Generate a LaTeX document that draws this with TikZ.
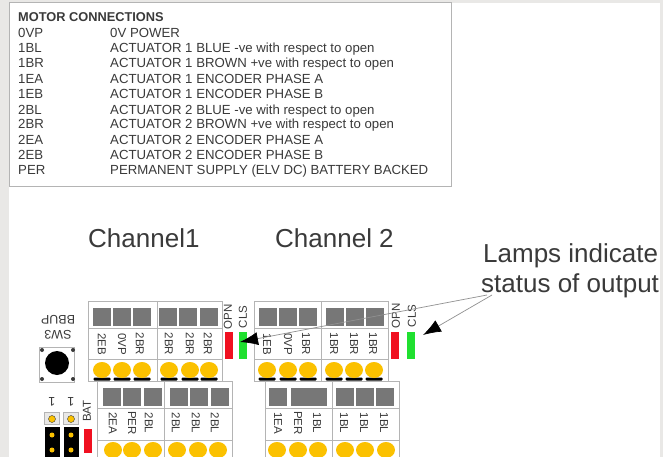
\documentclass[tikz,border=0pt]{standalone}
\usepackage{fontspec}
\setmainfont{Liberation Sans}
\usetikzlibrary{arrows.meta,shapes.geometric}
\definecolor{pagegray}{HTML}{E9E8E6}
\definecolor{framegray}{HTML}{B4B4B4}
\definecolor{cellgray}{HTML}{777777}
\definecolor{inkgray}{HTML}{3A3A3A}
\definecolor{lampyellow}{HTML}{FBC100}
\definecolor{barred}{HTML}{F01020}
\definecolor{bargreen}{HTML}{20E030}
\begin{document}
\begin{tikzpicture}[x=1pt,y=-1pt]
	\tikzset{frame/.style = {draw=framegray, line width=1pt}}
	\tikzset{cell/.style = {shape=rectangle, fill=cellgray, minimum width=18pt, minimum height=18.5pt, inner sep=0pt}}
	\tikzset{lamp/.style = {shape=ellipse, fill=lampyellow, minimum width=18pt, minimum height=16pt, inner sep=0pt}}
	\tikzset{foot/.style = {shape=rectangle, fill=black, rounded corners=1pt, minimum width=17pt, minimum height=3pt, inner sep=0pt}}
	\tikzset{pinlabel/.style = {rotate=-90, inner sep=0pt, text=inkgray, font=\fontsize{11.5pt}{11.5pt}\selectfont}}
	\tikzset{swlabel/.style = {rotate=180, inner sep=0pt, text=inkgray, font=\fontsize{12.5pt}{12.5pt}\selectfont}}
	\tikzset{sidelabel/.style = {rotate=90, inner sep=0pt, text=inkgray, font=\fontsize{11.5pt}{11.5pt}\selectfont}}
	\tikzset{tabletext/.style = {anchor=base west, inner sep=0pt, text=inkgray, font=\fontsize{13.2pt}{13.2pt}\selectfont}}
	\tikzset{bigtext/.style = {anchor=base west, inner sep=0pt, text=inkgray, font=\fontsize{26pt}{26pt}\selectfont}}
	\tikzset{redbar/.style = {shape=rectangle, fill=barred, minimum width=8pt, minimum height=27pt, inner sep=0pt}}
	\tikzset{greenbar/.style = {shape=rectangle, fill=bargreen, minimum width=8pt, minimum height=27pt, inner sep=0pt}}
	\tikzset{pointer/.style = {draw=framegray!80!black, line width=.7pt, -{Latex[black, length=18pt, width=13pt]}}}
	\useasboundingbox (0,0) rectangle (663,457);
	% Page and table
	\fill[pagegray] (0,0) rectangle (663,457);
	\fill[white] (9,3) rectangle (660,457);
	\draw[frame] (9.5,3) rectangle (451,186);
	\node[tabletext, font=\fontsize{12.8pt}{12.8pt}\selectfont\bfseries] (title) at (18,21.5) {MOTOR CONNECTIONS};
	\foreach \y/\code/\txt [count=\i] in {
		37.5/0VP/0V POWER,
		52.5/1BL/ACTUATOR 1 BLUE -ve with respect to open,
		67.5/1BR/ACTUATOR 1 BROWN +ve with respect to open,
		83.5/1EA/ACTUATOR 1 ENCODER PHASE A,
		98.5/1EB/ACTUATOR 1 ENCODER PHASE B,
		114.5/2BL/ACTUATOR 2 BLUE -ve with respect to open,
		128.5/2BR/ACTUATOR 2 BROWN +ve with respect to open,
		144.5/2EA/ACTUATOR 2 ENCODER PHASE A,
		159.5/2EB/ACTUATOR 2 ENCODER PHASE B,
		174.5/PER/PERMANENT SUPPLY (ELV DC) BATTERY BACKED} {
		\node[tabletext] (code\i) at (18,\y) {\code};
		\node[tabletext] (text\i) at (110,\y) {\txt};
	}
	% Headings
	\node[bigtext] (chanA) at (88,247) {Channel1};
	\node[bigtext] (chanB) at (275,247) {Channel 2};
	\node[bigtext] (lamps) at (483,262) {Lamps indicate};
	\node[bigtext] (status) at (481,292) {status of output};
	% Terminal block outlines
	\foreach \xa/\xb/\xc in {88/157/222, 254/321/388} {
		\draw[frame] (\xa,301) rectangle (\xb,381);
		\draw[frame] (\xb,301) rectangle (\xc,381);
		\draw[frame] (\xa,328.5) -- (\xc,328.5);
		\draw[frame] (\xa,359) -- (\xc,359);
	}
	\foreach \xa/\xb/\xc in {97/164/232, 265/332/399} {
		\draw[frame] (\xa,381) rectangle (\xb,470);
		\draw[frame] (\xb,381) rectangle (\xc,470);
		\draw[frame] (\xa,408.5) -- (\xc,408.5);
		\draw[frame] (\xa,440) -- (\xc,440);
	}
	% Upper terminals
	\foreach \cx/\lx/\px/\txt [count=\i] in {
		101.5/102/102/2EB, 122/122/122/0VP, 142/140/142/2BR,
		168/169/169/2BR, 188/190/190/2BR, 208.5/208/209/2BR,
		268/267/267/1EB, 288/288/288/0VP, 308/306/308/1BR,
		335/334/334/1BR, 355/354/354/1BR, 375/373/374/1BR} {
		\node[cell] (cellA\i) at (\cx,317) {};
		\node[pinlabel] (pinA\i) at (\lx,344) {\txt};
		\node[foot] (footA\i) at (\px,379) {};
		\node[lamp] (lampA\i) at (\px,370) {};
	}
	% Lower terminals
	\foreach \cx/\lx/\px/\txt [count=\i] in {
		112/113/113/2EA, 132/132/132/PER, 152.5/149/153/2BL,
		179/176/177/2BL, 199/196/198/2BL, 219.5/215/218/2BL,
		277.5/278/277/1EA, 299.5/298/298/PER, 317.5/317/318/1BL,
		344.5/344/345/1BL, 365/364/365/1BL, 385/384/386/1BL} {
		\node[cell] (cellB\i) at (\cx,397) {};
		\node[pinlabel] (pinB\i) at (\lx,423) {\txt};
		\node[lamp] (lampB\i) at (\px,450) {};
	}
	% Side lamps
	\node[sidelabel] (opnA) at (228,317) {OPN};
	\node[sidelabel] (clsA) at (243,317) {CLS};
	\node[redbar] (redA) at (228.5,345.5) {};
	\node[greenbar] (greenA) at (243,345.5) {};
	\node[sidelabel] (opnB) at (396,316) {OPN};
	\node[sidelabel] (clsB) at (412,316) {CLS};
	\node[redbar] (redB) at (395,345.5) {};
	\node[greenbar] (greenB) at (410.5,345.5) {};
	% Backup switch
	\node[swlabel] (bup) at (58,320) {BBUP};
	\node[swlabel] (swt) at (58,335) {SW3};
	\node[shape=rectangle, frame, fill=white, minimum size=35pt, inner sep=0pt] (switch) at (56.5,364.5) {};
	\node[shape=circle, fill=black, minimum size=24pt, inner sep=0pt] (knob) at (57,363) {};
	\foreach \x/\y in {42/350, 73/350, 42/379, 73/379}
		\fill[inkgray] (\x,\y) circle (2pt);
	% Battery header
	\foreach \x/\n in {52/A, 71/B} {
		\node[swlabel] (mark\n) at (\x,402) {1};
		\node[shape=rectangle, fill=pagegray, draw=framegray, minimum width=15pt, minimum height=12pt, inner sep=0pt] (head\n) at (\x,418.5) {};
		\node[shape=circle, fill=lampyellow, draw=inkgray, minimum size=7pt, inner sep=0pt] (pin\n) at (\x,419) {};
		\node[shape=rectangle, fill=black, minimum width=15pt, minimum height=34pt, inner sep=0pt, anchor=north] (post\n) at (\x,427) {};
		\node[shape=circle, fill=lampyellow, minimum size=5pt, inner sep=0pt] (dotA\n) at (\x,435) {};
		\node[shape=circle, fill=lampyellow, minimum size=5pt, inner sep=0pt] (dotB\n) at (\x,450) {};
	}
	\node[sidelabel] (bat) at (87,411) {BAT};
	\node[shape=rectangle, fill=barred, minimum width=8pt, minimum height=24pt, inner sep=0pt] (redC) at (88,441) {};
	% Pointers
	\coordinate (fromA) at (487,295);
	\coordinate (fromB) at (492,295);
	\coordinate (toA) at (240,342);
	\coordinate (toB) at (423,335);
	\draw[pointer] (fromA) to (toA);
	\draw[pointer] (fromB) to (toB);
\end{tikzpicture}
\end{document}
